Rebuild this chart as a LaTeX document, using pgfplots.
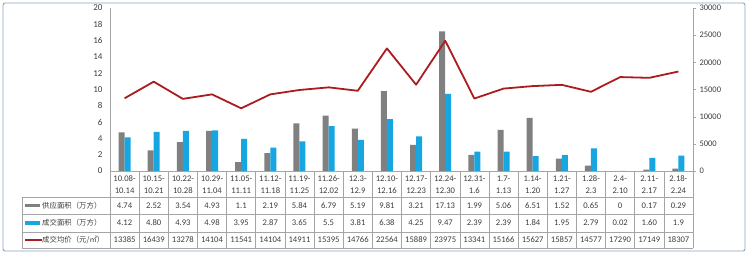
\documentclass[border=0pt]{standalone}
\usepackage{pgfplots}
\pgfplotsset{compat=1.18}
\usepackage{pgfplotstable}
\usepackage{fontspec}
\setmainfont{Carlito}
\newfontfamily\cjk{Noto Sans CJK SC}
\definecolor{supplygray}{RGB}{128,128,128}
\definecolor{dealblue}{RGB}{22,166,226}
\definecolor{pricered}{RGB}{172,28,30}
\definecolor{framecol}{RGB}{140,162,200}
\definecolor{gridcol}{RGB}{165,165,165}
\definecolor{txt}{RGB}{60,60,60}

\pgfplotstableread{
idx supply deal price
0  4.74  4.12 13385
1  2.52  4.80 16439
2  3.54  4.93 13278
3  4.93  4.98 14104
4  1.10  3.95 11541
5  2.19  2.87 14104
6  5.84  3.65 14911
7  6.79  5.50 15395
8  5.19  3.81 14766
9  9.81  6.38 22564
10 3.21  4.25 15889
11 17.13 9.47 23975
12 1.99  2.39 13341
13 5.06  2.39 15166
14 6.51  1.84 15627
15 1.52  1.95 15857
16 0.65  2.79 14577
17 0     0.02 17290
18 0.17  1.60 17149
19 0.29  1.90 18307
}\data

\begin{document}
\begin{tikzpicture}
\useasboundingbox (0pt,0pt) rectangle (750pt,-255pt);
\draw[framecol, line width=0.9pt, rounded corners=2pt] (3pt,-3pt) rectangle (745pt,-251pt);

\begin{axis}[
  at={(110pt,-171pt)}, anchor=south west,
  scale only axis, width=583pt, height=163pt,
  xmin=-0.5, xmax=19.5, ymin=0, ymax=20,
  hide x axis,
  axis y line*=left,
  y axis line style={draw=gridcol, line width=0.6pt},
  ytick={0,2,...,20},
  major tick length=0pt,
  yticklabel style={font=\fontsize{9}{10}\selectfont, text=txt, xshift=-4pt},
  /pgf/number format/assume math mode=true,
  ybar, bar width=6pt,
  clip=false,
]
\addplot[fill=supplygray, draw=none, bar shift=-3pt] table[x=idx,y=supply]{\data};
\addplot[fill=dealblue, draw=none, bar shift=3pt] table[x=idx,y=deal]{\data};
\end{axis}

\begin{axis}[
  at={(110pt,-171pt)}, anchor=south west,
  scale only axis, width=583pt, height=163pt,
  xmin=-0.5, xmax=19.5, ymin=0, ymax=30000,
  hide x axis,
  axis y line*=right,
  y axis line style={draw=gridcol, line width=0.6pt},
  ytick={0,5000,...,30000},
  scaled y ticks=false,
  tick align=outside,
  major tick length=3pt,
  tick style={draw=gridcol},
  yticklabel style={font=\fontsize{8.5}{10}\selectfont, text=txt,
    /pgf/number format/.cd, set thousands separator={}, assume math mode=true},
  clip=false,
]
\addplot[pricered, line width=1.8pt, mark=none, line join=round] table[x=idx,y=price]{\data};
\end{axis}

\begin{scope}[x=1pt,y=1pt]
  % table grid
  \draw[gridcol, line width=0.6pt] (110,-171) -- (693,-171);
  \foreach \yy in {197,214,232,248} \draw[gridcol, line width=0.6pt] (22,-\yy) -- (693,-\yy);
  \draw[gridcol, line width=0.6pt] (22,-197) -- (22,-248);
  \foreach \i in {0,...,20} {
    \pgfmathsetmacro\xx{110+29.15*\i}
    \draw[gridcol, line width=0.6pt] (\xx,-171) -- (\xx,-248);
  }
  % header labels
  \foreach \a/\b [count=\i from 0] in {10.08-/10.14,10.15-/10.21,10.22-/10.28,10.29-/11.04,11.05-/11.11,11.12-/11.18,11.19-/11.25,11.26-/12.02,12.3-/12.9,12.10-/12.16,12.17-/12.23,12.24-/12.30,12.31-/1.6,1.7-/1.13,1.14-/1.20,1.21-/1.27,1.28-/2.3,2.4-/2.10,2.11-/2.17,2.18-/2.24} {
    \pgfmathsetmacro\cx{124.575+29.15*\i}
    \node[font=\fontsize{8.6}{10}\selectfont, text=txt, inner sep=0pt] at (\cx,-178.5) {\a};
    \node[font=\fontsize{8.6}{10}\selectfont, text=txt, inner sep=0pt] at (\cx,-190.5) {\b};
  }
  \foreach \v [count=\i from 0] in {4.74,2.52,3.54,4.93,1.1,2.19,5.84,6.79,5.19,9.81,3.21,17.13,1.99,5.06,6.51,1.52,0.65,0,0.17,0.29} {
    \pgfmathsetmacro\cx{124.575+29.15*\i}
    \node[font=\fontsize{8.6}{10}\selectfont, text=txt, inner sep=0pt] at (\cx,-205.5) {\v};
  }
  \foreach \v [count=\i from 0] in {4.12,4.80,4.93,4.98,3.95,2.87,3.65,5.5,3.81,6.38,4.25,9.47,2.39,2.39,1.84,1.95,2.79,0.02,1.60,1.9} {
    \pgfmathsetmacro\cx{124.575+29.15*\i}
    \node[font=\fontsize{8.6}{10}\selectfont, text=txt, inner sep=0pt] at (\cx,-223) {\v};
  }
  \foreach \v [count=\i from 0] in {13385,16439,13278,14104,11541,14104,14911,15395,14766,22564,15889,23975,13341,15166,15627,15857,14577,17290,17149,18307} {
    \pgfmathsetmacro\cx{124.575+29.15*\i}
    \node[font=\fontsize{8.6}{10}\selectfont, text=txt, inner sep=0pt] at (\cx,-240) {\v};
  }
  % legend column
  \fill[supplygray] (25,-203.5) rectangle (40,-207);
  \fill[dealblue] (25,-220.5) rectangle (40,-225);
  \draw[pricered, line width=1.8pt] (25,-240) -- (42,-240);
  \node[font=\cjk\fontsize{7.4}{9}\selectfont, text=txt, anchor=west, inner sep=0pt] at (42,-205.5) {供应面积（万方）};
  \node[font=\cjk\fontsize{7.4}{9}\selectfont, text=txt, anchor=west, inner sep=0pt] at (42,-223) {成交面积（万方）};
  \node[font=\cjk\fontsize{7.4}{9}\selectfont, text=txt, anchor=west, inner sep=0pt] at (42,-240) {成交均价（元/㎡）};
\end{scope}
\end{tikzpicture}
\end{document}
